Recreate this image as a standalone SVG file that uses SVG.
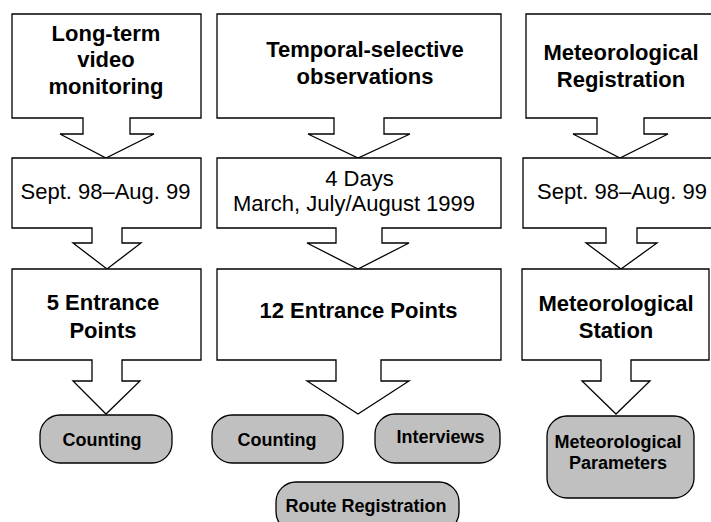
<svg xmlns="http://www.w3.org/2000/svg" width="711" height="522" viewBox="0 0 711 522">
<style>
.box{fill:#fff;stroke:#000;stroke-width:1.3;stroke-linejoin:miter}
.pill{fill:#c0c0c0;stroke:#000;stroke-width:1.3}
text{font-family:"Liberation Sans",Arial,sans-serif;fill:#000;text-anchor:middle}
.h{font-size:22px;font-weight:bold}
.n{font-size:22px}
.s{font-size:18px;font-weight:bold}
</style>
<rect width="711" height="522" fill="#fff"/>
<g id="connectors"/>
<g id="video">
<path class="box" d="M12,14 H201 V118 H130 V134 H154 L106,158 L60,134 H83 V118 H12 Z"/>
<text class="h" x="106" y="41">Long-term</text>
<text class="h" x="106" y="67">video</text>
<text class="h" x="106" y="94">monitoring</text>
</g>
<g id="video-period">
<path class="box" d="M12,158 H201 V228 H122 V243 H141 L107,269 L73,243 H92 V228 H12 Z"/>
<text class="n" x="105.5" y="199">Sept. 98–Aug. 99</text>
</g>
<g id="video-points">
<path class="box" d="M12,269 H201 V360 H122 V381 H140 L106,414 L73,381 H92 V360 H12 Z"/>
<text class="h" x="103" y="310">5 Entrance</text>
<text class="h" x="103" y="338">Points</text>
</g>
<g id="video-counting">
<rect class="pill" x="40" y="415" width="132" height="48" rx="20"/>
<text class="s" x="102" y="446">Counting</text>
</g>
<g id="temporal">
<path class="box" d="M217,14 H501 V118 H384 V134 H410 L358,158 L308,134 H334 V118 H217 Z"/>
<text class="h" x="365" y="57">Temporal-selective</text>
<text class="h" x="365" y="84">observations</text>
</g>
<g id="temporal-period">
<path class="box" d="M217,158 H501 V228 H382 V243 H409 L358,269 L307,243 H336 V228 H217 Z"/>
<text class="n" x="359.5" y="186">4 Days</text>
<text class="n" x="354" y="211">March, July/August 1999</text>
</g>
<g id="temporal-points">
<path class="box" d="M217,269 H501 V360 H381 V381 H409 L358,414 L307,381 H336 V360 H217 Z"/>
<text class="h" x="358.5" y="318">12 Entrance Points</text>
</g>
<g id="temporal-counting">
<rect class="pill" x="212" y="415" width="131" height="48" rx="20"/>
<text class="s" x="277" y="446">Counting</text>
</g>
<g id="temporal-interviews">
<rect class="pill" x="375" y="414" width="125" height="49" rx="20"/>
<text class="s" x="440.5" y="443">Interviews</text>
</g>
<g id="temporal-route">
<rect class="pill" x="276" y="482" width="183" height="50" rx="20"/>
<text class="s" x="366" y="512">Route Registration</text>
</g>
<g id="meteo">
<path class="box" d="M526,14 H713 V118 H644 V134 H668 L620,158 L573,134 H597 V118 H526 Z"/>
<text class="h" x="621" y="60">Meteorological</text>
<text class="h" x="621" y="87">Registration</text>
</g>
<g id="meteo-period">
<path class="box" d="M523,158 H713 V228 H637 V243 H657 L621,269 L586,243 H606 V228 H523 Z"/>
<text class="n" x="622" y="199">Sept. 98–Aug. 99</text>
</g>
<g id="meteo-station">
<path class="box" d="M522,269 H709 V360 H631 V381 H650 L616,414 L582,381 H601 V360 H522 Z"/>
<text class="h" x="616" y="311">Meteorological</text>
<text class="h" x="616" y="338">Station</text>
</g>
<g id="meteo-parameters">
<rect class="pill" x="547" y="416" width="147" height="82" rx="20"/>
<text class="s" x="618" y="448">Meteorological</text>
<text class="s" x="618" y="469">Parameters</text>
</g>
</svg>
